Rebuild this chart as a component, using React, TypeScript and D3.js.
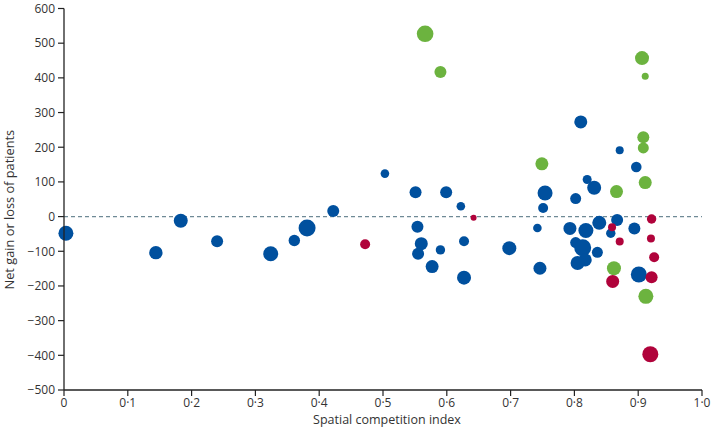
import React from "react";
import * as d3 from "d3";

const xVals = [0.003,0.144,0.183,0.240,0.324,0.361,0.381,0.422,0.472,0.503,0.551,0.599,0.622,0.642,0.554,0.560,0.555,0.590,0.627,0.577,0.627,0.698,0.742,0.746,0.749,0.566,0.590,0.906,0.911,0.810,0.908,0.908,0.871,0.897,0.820,0.911,0.754,0.802,0.831,0.866,0.751,0.793,0.818,0.839,0.867,0.859,0.857,0.894,0.921,0.871,0.920,0.925,0.802,0.813,0.836,0.817,0.805,0.862,0.860,0.901,0.921,0.912,0.919];
const yVals = [-48,-104,-12,-71,-107,-69,-33,16,-80,124,70,70,30,-3,-29,-78,-107,-96,-71,-144,-176,-91,-33,-149,152,527,417,457,405,273,229,198,191,143,107,98,68,52,83,72,25,-34,-40,-18,-10,-31,-48,-34,-7,-72,-63,-117,-75,-90,-103,-125,-134,-149,-187,-167,-175,-230,-397];
const sizes = [7.5,6.7,7,6,7.5,5.7,8.5,6,5,4.3,6,6,4.3,3,6,6.5,6,4.7,5,6.5,7,7,4.3,6.5,6.5,8.3,6,7,3.5,6.5,6,5.5,4,5.3,4.5,6.5,7.5,5.5,7,6.5,5,6.5,7.5,7,6,4,4.7,6,4.7,4,4,5,5.5,8.5,5.5,6.5,7,7,6.5,8,6,7.5,8];
const groups = ["B","B","B","B","B","B","B","B","R","B","B","B","B","R","B","B","B","B","B","B","B","B","B","B","G","G","G","G","G","B","G","G","B","B","B","G","B","B","B","G","B","B","B","B","B","R","B","B","R","R","R","R","B","B","B","B","B","G","R","B","R","G","R"];

const xTicks = [0,0.1,0.2,0.3,0.4,0.5,0.6,0.7,0.8,0.9,1.0];
const xTickLabels = ["0","0·1","0·2","0·3","0·4","0·5","0·6","0·7","0·8","0·9","1·0"];
const yTicks = [600,500,400,300,200,100,0,-100,-200,-300,-400,-500];

const colors: Record<string,string> = { B: "#00509e", G: "#6cb33f", R: "#b0033b" };
const drawOrder = ["B","G","R"];
const FONT = "'Open Sans', sans-serif";

export default function App() {
  const x = d3.scaleLinear().domain([0, 1]).range([64, 702]);
  const y = d3.scaleLinear().domain([-500, 600]).range([390, 8.5]);
  const r = d3.scaleLinear().domain([0, 10]).range([0, 10]);
  const pts = xVals.map((v, i) => ({ x: v, y: yVals[i], s: sizes[i], g: groups[i] }));
  const sorted = drawOrder.flatMap((g) => pts.filter((p) => p.g === g));
  const fmtY = (v: number) => (v < 0 ? "\u2212" + Math.abs(v) : String(v));
  return (
    <svg width={713} height={434} style={{ position: "absolute", left: 0, top: 0 }} fontFamily={FONT}>
      <rect width={713} height={434} fill="#fff" />
      <line x1={x(0)} x2={x(1)} y1={y(0)} y2={y(0)} stroke="#6f8a96" strokeWidth={1.4} strokeDasharray="4 3" />
      {sorted.map((p, i) => (
        <circle key={i} cx={x(p.x)} cy={y(p.y)} r={r(p.s)} fill={colors[p.g]} />
      ))}
      <line x1={x(0)} x2={x(0)} y1={y(600)} y2={y(-500)} stroke="#222" strokeWidth={1.3} />
      <line x1={x(0)} x2={x(1)} y1={y(-500)} y2={y(-500)} stroke="#222" strokeWidth={1.3} />
      {yTicks.map((t) => (
        <g key={t}>
          <line x1={x(0) - 6} x2={x(0)} y1={y(t)} y2={y(t)} stroke="#222" strokeWidth={1.2} />
          <text x={x(0) - 9} y={y(t) + 4.3} textAnchor="end" fontSize={12} fill="#333">{fmtY(t)}</text>
        </g>
      ))}
      {xTicks.map((t, i) => (
        <g key={t}>
          <line x1={x(t)} x2={x(t)} y1={y(-500)} y2={y(-500) + 6} stroke="#222" strokeWidth={1.2} />
          <text x={x(t)} y={407} textAnchor="middle" fontSize={12} fill="#333">{xTickLabels[i]}</text>
        </g>
      ))}
      <text x={(x(0) + x(1)) / 2 + 4} y={424} textAnchor="middle" fontSize={12.5} fill="#333">Spatial competition index</text>
      <text transform={`translate(14, ${y(20)}) rotate(-90)`} textAnchor="middle" fontSize={12.8} fill="#333">Net gain or loss of patients</text>
    </svg>
  );
}
